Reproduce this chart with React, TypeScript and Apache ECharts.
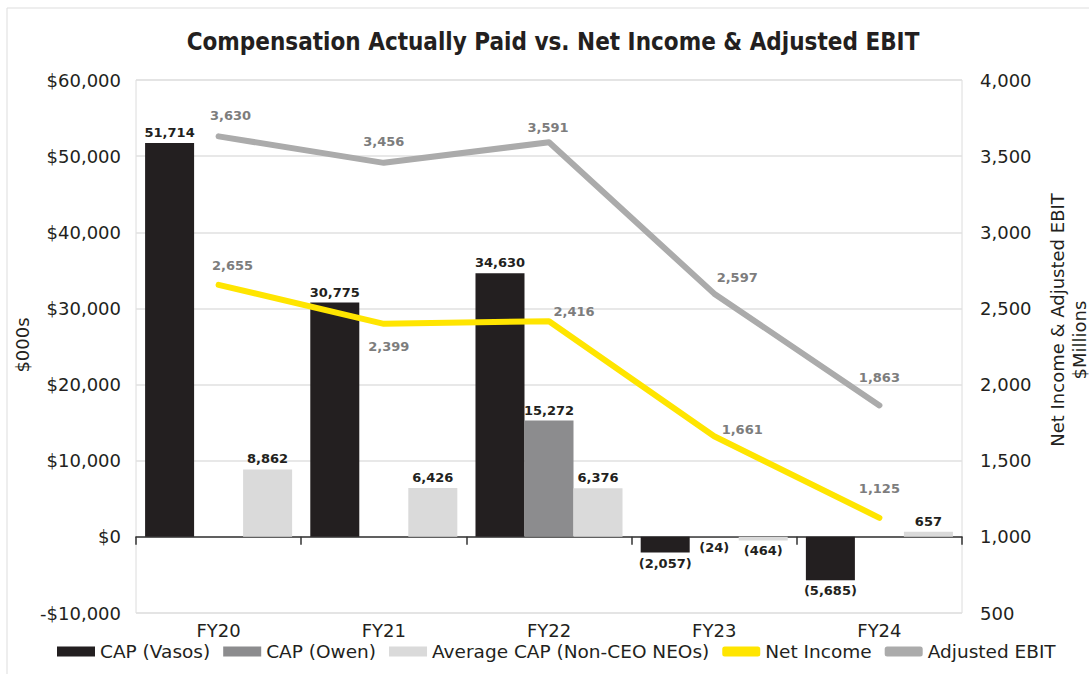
import React, { useEffect, useRef } from "react";
import * as echarts from "echarts";

const categories = ["FY20", "FY21", "FY22", "FY23", "FY24"];
const capVasos = [51714, 30775, 34630, -2057, -5685];
const capOwen: (number | null)[] = [null, null, 15272, -24, null];
const capNonCeo = [8862, 6426, 6376, -464, 657];
const netIncome = [2655, 2399, 2416, 1661, 1125];
const adjEbit = [3630, 3456, 3591, 2597, 1863];

const seriesNames = [
  "CAP (Vasos)",
  "CAP (Owen)",
  "Average CAP (Non-CEO NEOs)",
  "Net Income",
  "Adjusted EBIT",
];

// label offsets (style only)
const niOffsets = [[14, -19], [5, 23], [25, -10], [28, -7], [0, -29]];
const ebitOffsets = [[12, -21], [0, -21], [-1, -15], [23, -16], [0, -28]];

const FONT = "DejaVu Sans";

const fmt = (v: number) =>
  v < 0
    ? "(" + Math.abs(v).toLocaleString("en-US") + ")"
    : v.toLocaleString("en-US");

const barData = (arr: (number | null)[]) =>
  arr.map((v) =>
    v == null
      ? null
      : { value: v, label: { position: v < 0 ? "bottom" : "top" } }
  );

const lineData = (arr: number[], offs: number[][]) =>
  arr.map((v, i) => ({ value: v, label: { offset: offs[i] } }));

export default function App() {
  const ref = useRef<HTMLDivElement>(null);
  useEffect(() => {
    document.body.style.margin = "0";
    const chart = echarts.init(ref.current!, null, { renderer: "svg" });
    const barLabel = {
      show: true,
      distance: 4,
      fontFamily: FONT,
      fontWeight: "bold",
      fontSize: 13,
      color: "#231f20",
      formatter: (p: any) => fmt(p.value),
    };
    const lineLabel = {
      show: true,
      position: "inside",
      fontFamily: FONT,
      fontWeight: "bold",
      fontSize: 13,
      color: "#7d7d7d",
      formatter: (p: any) => fmt(p.value),
    };
    chart.setOption({
      animation: false,
      backgroundColor: "#ffffff",
      textStyle: { fontFamily: FONT },
      grid: {
        left: 136,
        right: 127,
        top: 80,
        bottom: 61,
        show: true,
        borderColor: "#dcdcdc",
        borderWidth: 1,
      },
      graphic: [
        {
          type: "rect",
          shape: { x: 7, y: 8, width: 1200, height: 800 },
          style: { fill: "none", stroke: "#dddddd", lineWidth: 1 },
          silent: true,
        },
        {
          type: "text",
          x: 553,
          y: 42,
          style: {
            text: "Compensation Actually Paid vs. Net Income & Adjusted EBIT",
            align: "center",
            verticalAlign: "middle",
            fontFamily: "DejaVu Sans Condensed",
            fontWeight: "bold",
            fontSize: 24,
            fill: "#231f20",
          },
        },
        {
          type: "text",
          x: 22,
          y: 345,
          rotation: Math.PI / 2,
          style: {
            text: "$000s",
            align: "center",
            verticalAlign: "middle",
            fontFamily: FONT,
            fontSize: 18,
            fill: "#231f20",
          },
        },
        {
          type: "text",
          x: 1057,
          y: 320,
          rotation: Math.PI / 2,
          style: {
            text: "Net Income & Adjusted EBIT",
            align: "center",
            verticalAlign: "middle",
            fontFamily: FONT,
            fontSize: 18,
            fill: "#231f20",
          },
        },
        {
          type: "text",
          x: 1079,
          y: 340,
          rotation: Math.PI / 2,
          style: {
            text: "$Millions",
            align: "center",
            verticalAlign: "middle",
            fontFamily: FONT,
            fontSize: 18,
            fill: "#231f20",
          },
        },
      ],
      legend: {
        bottom: 8,
        left: 52,
        itemWidth: 38,
        itemHeight: 10,
        itemGap: 13,
        textStyle: { fontFamily: FONT, fontSize: 18.5, color: "#231f20" },
        data: [
          { name: seriesNames[0], icon: "rect" },
          { name: seriesNames[1], icon: "rect" },
          { name: seriesNames[2], icon: "rect" },
          { name: seriesNames[3], icon: "roundRect" },
          { name: seriesNames[4], icon: "roundRect" },
        ],
      },
      xAxis: [
        {
          type: "category",
          data: categories,
          position: "bottom",
          axisLine: { show: false, onZero: false },
          axisTick: { show: false },
          axisLabel: {
            margin: 8,
            fontFamily: FONT,
            fontSize: 18,
            color: "#231f20",
          },
        },
        {
          type: "category",
          data: categories,
          position: "bottom",
          axisLine: {
            show: true,
            onZero: true,
            onZeroAxisIndex: 0,
            lineStyle: { color: "#333333", width: 1.5 },
          },
          axisTick: {
            show: true,
            length: 8,
            lineStyle: { color: "#333333", width: 1.5 },
          },
          axisLabel: { show: false },
        },
      ],
      yAxis: [
        {
          type: "value",
          min: -10000,
          max: 60000,
          interval: 10000,
          axisLine: { show: false },
          axisTick: { show: false },
          splitLine: { lineStyle: { color: "#e0e0e0", width: 1.5 } },
          axisLabel: {
            margin: 15,
            fontFamily: FONT,
            fontSize: 18,
            color: "#231f20",
            formatter: (v: number) =>
              (v < 0 ? "-$" : "$") + Math.abs(v).toLocaleString("en-US"),
          },
        },
        {
          type: "value",
          min: 500,
          max: 4000,
          interval: 500,
          position: "right",
          axisLine: { show: false },
          axisTick: { show: false },
          splitLine: { show: false },
          axisLabel: {
            margin: 18,
            fontFamily: FONT,
            fontSize: 18,
            color: "#231f20",
            formatter: (v: number) => v.toLocaleString("en-US"),
          },
        },
      ],
      series: [
        {
          name: seriesNames[0],
          type: "bar",
          xAxisIndex: 0,
          yAxisIndex: 0,
          barGap: "0%",
          barCategoryGap: "11%",
          itemStyle: { color: "#231f20" },
          label: barLabel,
          data: barData(capVasos),
        },
        {
          name: seriesNames[1],
          type: "bar",
          xAxisIndex: 0,
          yAxisIndex: 0,
          barGap: "0%",
          barCategoryGap: "11%",
          itemStyle: { color: "#8c8c8e" },
          label: barLabel,
          data: barData(capOwen),
        },
        {
          name: seriesNames[2],
          type: "bar",
          xAxisIndex: 0,
          yAxisIndex: 0,
          barGap: "0%",
          barCategoryGap: "11%",
          itemStyle: { color: "#dadada" },
          label: barLabel,
          data: barData(capNonCeo),
        },
        {
          name: seriesNames[3],
          type: "line",
          xAxisIndex: 0,
          yAxisIndex: 1,
          symbol: "circle",
          symbolSize: 2,
          color: "#ffe500",
          itemStyle: { color: "#ffe500" },
          lineStyle: { color: "#ffe500", width: 6, cap: "round", join: "round" },
          label: lineLabel,
          data: lineData(netIncome, niOffsets),
          z: 3,
        },
        {
          name: seriesNames[4],
          type: "line",
          xAxisIndex: 0,
          yAxisIndex: 1,
          symbol: "circle",
          symbolSize: 2,
          color: "#ababab",
          itemStyle: { color: "#ababab" },
          lineStyle: { color: "#ababab", width: 6, cap: "round", join: "round" },
          label: lineLabel,
          data: lineData(adjEbit, ebitOffsets),
          z: 3,
        },
      ],
    });
    return () => chart.dispose();
  }, []);
  return (
    <div
      ref={ref}
      style={{ position: "fixed", left: 0, top: 0, width: 1089, height: 674 }}
    />
  );
}
